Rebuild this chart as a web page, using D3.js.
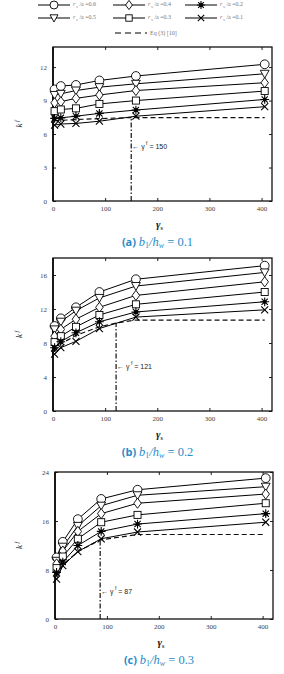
<!DOCTYPE html>
<html>
<head>
<meta charset="utf-8">
<script src="https://cdn.jsdelivr.net/npm/d3@7"></script>
<style>
  body { margin: 0; background: #fff; }
  svg { display: block; }
</style>
</head>
<body>
<div id="chart"></div>
<script>
// 数据
const gammaS = [3, 15, 44, 89, 159, 406];
const ratios = ['0.6', '0.5', '0.4', '0.3', '0.2', '0.1'];
const shapes = ['circle', 'triDown', 'diamond', 'square', 'star', 'cross'];

const kfA = [
	[10.0, 10.3, 10.4, 10.8, 11.2, 12.25],
	[9.5, 9.6, 9.9, 10.2, 10.5, 11.4],
	[8.8, 8.9, 9.2, 9.5, 9.9, 10.6],
	[8.05, 8.2, 8.3, 8.7, 9.0, 9.85],
	[7.4, 7.45, 7.6, 7.85, 8.15, 9.1],
	[6.8, 6.9, 6.95, 7.15, 7.6, 8.45]
];
const kfB = [
	[10.0, 10.9, 12.2, 14.0, 15.5, 17.1],
	[9.6, 10.5, 11.8, 13.3, 14.7, 16.3],
	[8.8, 9.6, 10.8, 12.2, 13.6, 15.2],
	[8.1, 8.8, 9.9, 11.3, 12.55, 14.0],
	[7.45, 8.15, 9.2, 10.5, 11.65, 12.85],
	[6.7, 7.45, 8.2, 9.7, 11.05, 11.9]
];
const kfC = [
	[10.05, 12.6, 16.3, 19.6, 21.1, 23.0],
	[9.5, 11.8, 15.2, 18.5, 20.2, 21.6],
	[9.0, 11.1, 14.3, 17.2, 18.9, 20.4],
	[8.3, 10.2, 13.1, 15.8, 17.0, 18.9],
	[7.6, 9.3, 12.0, 14.3, 15.5, 17.2],
	[6.5, 8.7, 11.0, 13.1, 14.2, 15.8]
];
// Eq (3) [10] 虚线
const eqA = [[3, 7.2], [45, 7.3], [90, 7.38], [150, 7.48], [406, 7.48]];
const eqB = [[3, 7.0], [15, 7.9], [44, 8.9], [89, 9.9], [121, 10.35], [159, 10.7], [406, 10.7]];
const eqC = [[3, 7.0], [15, 8.8], [44, 11.0], [87, 12.9], [159, 13.8], [406, 13.8]];
const gammaF = [150, 121, 87];
const yTicksA = [0, 3, 6, 9, 12];
const yTicksB = [0, 4, 8, 12, 16];
const yTicksC = [0, 8, 16, 24];
const xTicks = [0, 100, 200, 300, 400];

const W = 284, H = 674;
const svg = d3.select('#chart').append('svg')
	.attr('width', W)
	.attr('height', H);

// 画符号
const drawMarker = (g, shape, cx, cy, s) => {
	let el;
	if (shape === 'circle') {
		el = g.append('circle').attr('cx', cx).attr('cy', cy).attr('r', s);
	} else if (shape === 'square') {
		el = g.append('rect').attr('x', cx - s * 0.8).attr('y', cy - s * 0.8)
			.attr('width', s * 1.6).attr('height', s * 1.6);
	} else if (shape === 'diamond') {
		el = g.append('polygon').attr('points',
			[[cx, cy - s * 1.15], [cx + s * 0.85, cy], [cx, cy + s * 1.15], [cx - s * 0.85, cy]].join(' '));
	} else if (shape === 'triDown') {
		el = g.append('polygon').attr('points',
			[[cx - s, cy - s * 0.8], [cx + s, cy - s * 0.8], [cx, cy + s]].join(' '));
	} else if (shape === 'star') {
		const p = [];
		for (let i = 0; i < 4; i++) {
			const a = i * Math.PI / 4;
			p.push('M' + (cx - Math.cos(a) * s) + ',' + (cy - Math.sin(a) * s)
				+ 'L' + (cx + Math.cos(a) * s) + ',' + (cy + Math.sin(a) * s));
		}
		g.append('circle').attr('cx', cx).attr('cy', cy).attr('r', s * 0.45).attr('fill', '#000');
		return g.append('path').attr('d', p.join('')).attr('stroke', '#000').attr('stroke-width', 1.1);
	} else {
		const d = s * 0.8;
		return g.append('path')
			.attr('d', 'M' + (cx - d) + ',' + (cy - d) + 'L' + (cx + d) + ',' + (cy + d)
				+ 'M' + (cx - d) + ',' + (cy + d) + 'L' + (cx + d) + ',' + (cy - d))
			.attr('stroke', '#000').attr('stroke-width', 1.1);
	}
	return el.attr('fill', '#fff').attr('stroke', '#000').attr('stroke-width', 0.9);
};

// 画一个面板
const drawPanel = (cfg) => {
	const { left, right, top, bottom, yMax, yTicks, series, eq, gf, tag, ratio } = cfg;
	const x = d3.scaleLinear().domain([0, 420]).range([left, right]);
	const y = d3.scaleLinear().domain([0, yMax]).range([bottom, top]);
	const g = svg.append('g');

	// 框和刻度
	g.append('g').attr('transform', 'translate(0,' + bottom + ')')
		.call(d3.axisBottom(x).tickValues(xTicks).tickSizeInner(-3).tickSizeOuter(0).tickPadding(5));
	g.append('g').attr('transform', 'translate(0,' + top + ')')
		.call(d3.axisTop(x).tickValues(xTicks).tickSizeInner(-3).tickSizeOuter(0).tickFormat(''));
	g.append('g').attr('transform', 'translate(' + left + ',0)')
		.call(d3.axisLeft(y).tickValues(yTicks).tickSizeInner(-3).tickSizeOuter(0).tickPadding(6));
	g.append('g').attr('transform', 'translate(' + right + ',0)')
		.call(d3.axisRight(y).tickValues(yTicks).tickSizeInner(-3).tickSizeOuter(0).tickFormat(''));
	g.selectAll('.domain').remove();
	g.selectAll('.tick line').attr('stroke', '#222').attr('stroke-width', 1);
	g.selectAll('.tick text')
		.style('font-family', '"Liberation Serif", serif')
		.style('font-size', '7px')
		.attr('fill', '#444');
	g.append('rect')
		.attr('x', left).attr('y', top)
		.attr('width', right - left).attr('height', bottom - top)
		.attr('fill', 'none').attr('stroke', '#111').attr('stroke-width', 1.3);
	g.append('line')
		.attr('x1', left).attr('x2', left).attr('y1', top).attr('y2', bottom)
		.attr('stroke', '#111').attr('stroke-width', 1.8);

	// Eq 虚线
	const line = d3.line().x(d => x(d[0])).y(d => y(d[1]));
	g.append('path').attr('d', line(eq))
		.attr('fill', 'none').attr('stroke', '#111')
		.attr('stroke-width', 1.2).attr('stroke-dasharray', '5,3');

	// 竖向点划线
	const eqAt = d3.scaleLinear().domain(eq.map(d => d[0])).range(eq.map(d => d[1]));
	g.append('line')
		.attr('x1', x(gf)).attr('x2', x(gf))
		.attr('y1', bottom).attr('y2', y(eqAt(gf)))
		.attr('stroke', '#111').attr('stroke-width', 1.2)
		.attr('stroke-dasharray', '5,2,1.5,2');

	// 标注
	const ay = y(ratio);
	const t = g.append('text')
		.attr('x', x(gf) + 1).attr('y', ay)
		.style('font-family', '"Liberation Sans", sans-serif')
		.style('font-size', '7px').attr('fill', '#222');
	t.append('tspan').text('\u2190 \u03b3');
	t.append('tspan').attr('dy', -4).style('font-size', '5px').text(' f');
	t.append('tspan').attr('dy', 4).text(' = ' + gf);

	// 曲线和符号
	series.forEach((vals) => {
		const pts = vals.map((v, j) => [gammaS[j], v]);
		g.append('path').attr('d', line(pts))
			.attr('fill', 'none').attr('stroke', '#000').attr('stroke-width', 1);
	});
	series.forEach((vals, i) => {
		vals.forEach((v, j) => drawMarker(g, shapes[i], x(gammaS[j]), y(v), 4.4));
	});

	// y 轴标题
	const ky = g.append('text')
		.attr('transform', 'translate(22,' + ((top + bottom) / 2) + ') rotate(-90)')
		.attr('text-anchor', 'middle')
		.style('font-family', '"Liberation Serif", serif')
		.style('font-size', '9px').attr('fill', '#222');
	ky.append('tspan').style('font-style', 'italic').text('k');
	ky.append('tspan').attr('dy', -3).style('font-size', '6px').style('font-style', 'italic').text(' f');

	// x 轴标题
	const xl = g.append('text')
		.attr('x', (left + right) / 2 - 3).attr('y', bottom + 27)
		.attr('text-anchor', 'middle')
		.style('font-family', '"Liberation Serif", serif')
		.style('font-size', '11px').style('font-weight', 'bold').attr('fill', '#222');
	xl.append('tspan').style('font-style', 'italic').text('\u03b3');
	xl.append('tspan').attr('dy', 2).style('font-size', '6px').text('s');

	// 标题
	const cap = g.append('text')
		.attr('x', (left + right) / 2 - 5).attr('y', bottom + 45)
		.attr('text-anchor', 'middle')
		.attr('fill', '#2a8cc8');
	cap.append('tspan')
		.style('font-family', '"Open Sans", sans-serif')
		.style('font-size', '11px').style('font-weight', 'bold').text('(' + tag + ') ');
	cap.append('tspan')
		.style('font-family', '"Liberation Serif", serif')
		.style('font-size', '12.5px').style('font-style', 'italic').text('b');
	cap.append('tspan').attr('dy', 2)
		.style('font-family', '"Liberation Serif", serif').style('font-size', '8px').text('1');
	cap.append('tspan').attr('dy', -2)
		.style('font-family', '"Liberation Serif", serif')
		.style('font-size', '12.5px').style('font-style', 'italic').text('/h');
	cap.append('tspan').attr('dy', 2)
		.style('font-family', '"Liberation Serif", serif').style('font-size', '8px').style('font-style', 'italic').text('w');
	cap.append('tspan').attr('dy', -2)
		.style('font-family', '"Liberation Serif", serif').style('font-size', '12.5px').text(' = ' + cfg.b);
};

drawPanel({ left: 53, right: 272, top: 47, bottom: 201, yMax: 13.8, yTicks: yTicksA,
	series: kfA, eq: eqA, gf: gammaF[0], tag: 'a', b: '0.1', ratio: 4.7 });
drawPanel({ left: 53, right: 272, top: 258, bottom: 411, yMax: 18, yTicks: yTicksB,
	series: kfB, eq: eqB, gf: gammaF[1], tag: 'b', b: '0.2', ratio: 4.9 });
drawPanel({ left: 55, right: 273, top: 472, bottom: 619, yMax: 24, yTicks: yTicksC,
	series: kfC, eq: eqC, gf: gammaF[2], tag: 'c', b: '0.3', ratio: 4.1 });

// 图例
const legend = svg.append('g');
const legX = [38, 113, 185];
const legY = [5, 18];
ratios.forEach((r, i) => {
	const lx = legX[Math.floor(i / 2)], ly = legY[i % 2];
	legend.append('line').attr('x1', lx).attr('x2', lx + 32).attr('y1', ly).attr('y2', ly)
		.attr('stroke', '#000').attr('stroke-width', 1);
	drawMarker(legend, shapes[i], lx + 16, ly, 4);
	const t = legend.append('text').attr('x', lx + 35).attr('y', ly + 1)
		.style('font-family', '"Liberation Serif", serif')
		.style('font-size', '6px').attr('fill', '#777');
	t.append('tspan').style('font-style', 'italic').text('r');
	t.append('tspan').attr('dy', 2).style('font-size', '4px').text(' s');
	t.append('tspan').attr('dy', -2).text(' /a  =' + r);
});
legend.append('line').attr('x1', 115).attr('x2', 147).attr('y1', 33).attr('y2', 33)
	.attr('stroke', '#000').attr('stroke-width', 1.2).attr('stroke-dasharray', '6,4');
legend.append('text').attr('x', 150).attr('y', 35)
	.style('font-family', '"Liberation Serif", serif')
	.style('font-size', '6px').attr('fill', '#777').text('Eq (3) [10]');
</script>
</body>
</html>
